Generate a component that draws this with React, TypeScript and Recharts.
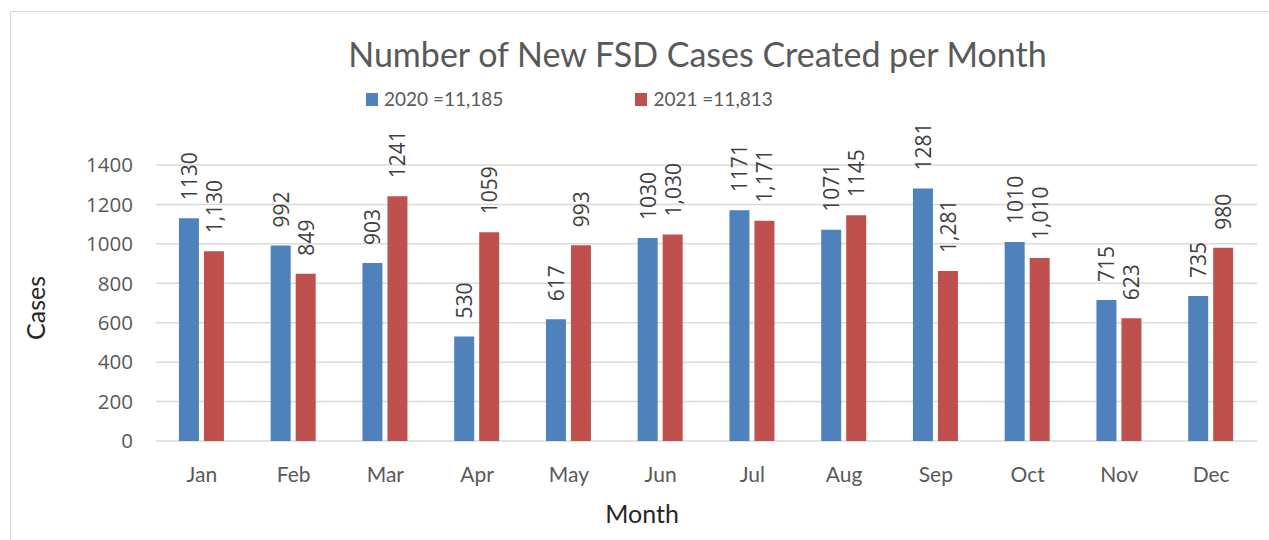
import { BarChart, Bar, XAxis, YAxis, CartesianGrid, LabelList, Label } from "recharts";

const MONTHS = ["Jan", "Feb", "Mar", "Apr", "May", "Jun", "Jul", "Aug", "Sep", "Oct", "Nov", "Dec"];
const CASES_2020 = [1130, 992, 903, 530, 617, 1030, 1171, 1071, 1281, 1010, 715, 735];
const CASES_2021 = [962, 849, 1241, 1059, 993, 1048, 1117, 1145, 862, 928, 623, 980];
// labels as printed on the original (some 2021 labels don't match their bars)
const LABELS_2020 = ["1130", "992", "903", "530", "617", "1030", "1171", "1071", "1281", "1010", "715", "735"];
const LABELS_2021 = ["1,130", "849", "1241", "1059", "993", "1,030", "1,171", "1145", "1,281", "1,010", "623", "980"];
const Y_TICKS = [0, 200, 400, 600, 800, 1000, 1200, 1400];

const SERIES = [
  { key: "y2020", labelKey: "l2020", name: "2020 =11,185", color: "#4F81BD" },
  { key: "y2021", labelKey: "l2021", name: "2021 =11,813", color: "#C0504D" },
];

const data = MONTHS.map((month, i) => ({
  month,
  y2020: CASES_2020[i],
  y2021: CASES_2021[i],
  l2020: LABELS_2020[i],
  l2021: LABELS_2021[i],
}));

const FONT = "Lato, 'Open Sans', sans-serif";
const NUM_FONT = "'Open Sans', Lato, sans-serif";
const TEXT = "#595959";

function BarValueLabel(props: any) {
  const { x, y, width, value } = props;
  const cx = Number(x) + Number(width) / 2;
  const cy = Number(y) - 18;
  return (
    <text
      x={cx}
      y={cy}
      transform={`rotate(-90 ${cx} ${cy})`}
      textAnchor="start"
      dominantBaseline="central"
      fill="#404040"
      fontSize={21}
      fontFamily={NUM_FONT}
    >
      {value}
    </text>
  );
}

function CasesLabel(props: any) {
  const { viewBox } = props;
  const cx = 35;
  const cy = viewBox.y + viewBox.height / 2 + 5;
  return (
    <text
      x={cx}
      y={cy}
      transform={`rotate(-90 ${cx} ${cy})`}
      textAnchor="middle"
      dominantBaseline="central"
      fill="#262626"
      fontSize={25}
      fontFamily={FONT}
    >
      Cases
    </text>
  );
}

function MonthLabel(props: any) {
  const { viewBox } = props;
  return (
    <text
      x={642}
      y={viewBox.y + viewBox.height - 8}
      textAnchor="middle"
      fill="#262626"
      fontSize={25}
      fontFamily={FONT}
    >
      Month
    </text>
  );
}

export default function App() {
  return (
    <div style={{ position: "absolute", left: 0, top: 0, width: 1269, height: 540, background: "#fff", fontFamily: FONT }}>
      <div
        style={{
          position: "absolute", left: 10, top: 11, width: 1259, height: 529,
          borderTop: "1px solid #d9d9d9", borderLeft: "1px solid #d9d9d9",
        }}
      />
      <div
        style={{
          position: "absolute", left: 250, top: 35, width: 895, textAlign: "center",
          fontSize: 34, lineHeight: "38px", color: TEXT, whiteSpace: "nowrap",
        }}
      >
        Number of New FSD Cases Created per Month
      </div>
      <div
        style={{
          position: "absolute", left: 366, top: 87, display: "flex", alignItems: "center",
          fontSize: 19, lineHeight: "24px", color: TEXT, whiteSpace: "nowrap",
        }}
      >
        {SERIES.map((s, i) => (
          <div key={s.key} style={{ display: "flex", alignItems: "center", marginRight: i === 0 ? 132 : 0 }}>
            <span style={{ display: "inline-block", width: 12, height: 13, background: s.color, marginRight: 6 }} />
            <span>{s.name}</span>
          </div>
        ))}
      </div>
      <div style={{ position: "absolute", left: 0, top: 0 }}>
        <BarChart
          width={1269}
          height={540}
          data={data}
          margin={{ top: 165, right: 12, bottom: 9, left: 0 }}
          barCategoryGap="25%"
          barGap={5}
        >
          <CartesianGrid vertical={false} stroke="#d9d9d9" strokeWidth={1.5} />
          <XAxis
            dataKey="month"
            height={90}
            axisLine={false}
            tickLine={false}
            tickSize={0}
            tickMargin={26}
            tick={{ fill: TEXT, fontSize: 21, fontFamily: FONT }}
          >
            <Label content={<MonthLabel />} />
          </XAxis>
          <YAxis
            width={156}
            domain={[0, 1400]}
            ticks={Y_TICKS}
            axisLine={false}
            tickLine={false}
            tickSize={0}
            tickMargin={23}
            tick={{ fill: TEXT, fontSize: 20.5, fontFamily: NUM_FONT }}
          >
            <Label content={<CasesLabel />} />
          </YAxis>
          {SERIES.map((s) => (
            <Bar key={s.key} dataKey={s.key} name={s.name} fill={s.color} isAnimationActive={false}>
              <LabelList dataKey={s.labelKey} content={<BarValueLabel />} />
            </Bar>
          ))}
        </BarChart>
      </div>
    </div>
  );
}
